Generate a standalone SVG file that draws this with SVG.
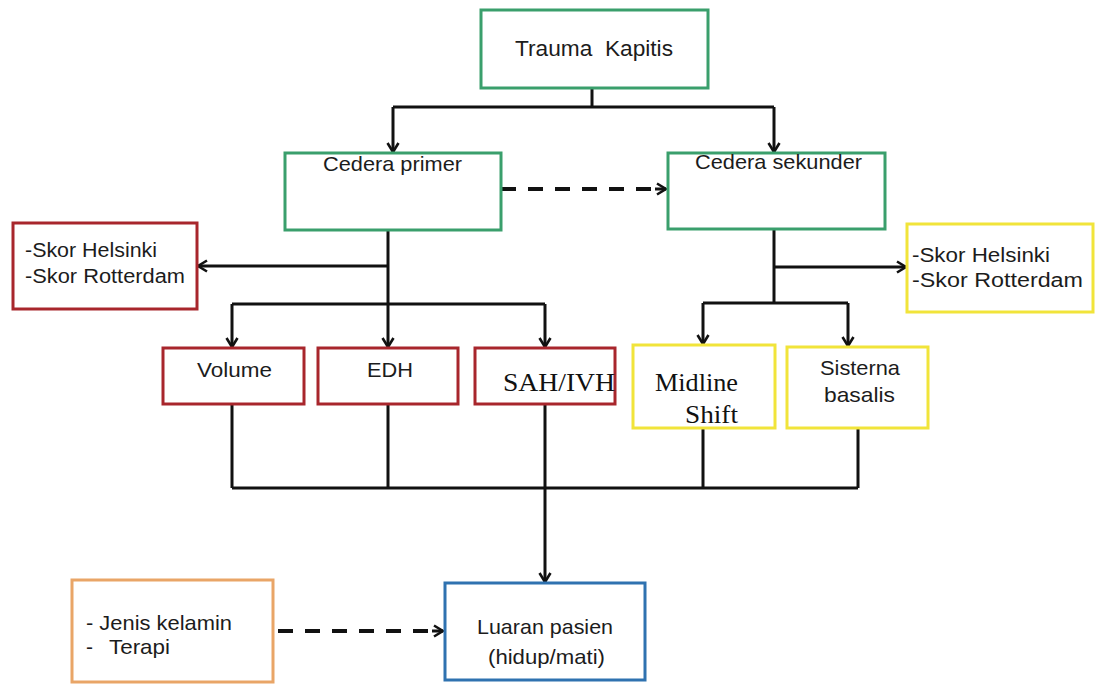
<svg xmlns="http://www.w3.org/2000/svg" width="1098" height="688" viewBox="0 0 1098 688">
<defs>
<style>
.box{fill:#fff;stroke-width:3}
.g{stroke:#3a9f6c}
.r{stroke:#a8262c}
.y{stroke:#f1e43a}
.o{stroke:#e9a567}
.b{stroke:#2f72b0}
.t{font-family:"Liberation Sans",Arial,sans-serif;fill:#1c1c1c}
.s{font-family:"Liberation Serif","Times New Roman",serif;fill:#111}
.ln{fill:none;stroke:#111;stroke-width:3}
.ar{marker-end:url(#ah)}
.dash{fill:none;stroke:#111;stroke-width:4;stroke-dasharray:15 12}
</style>
<marker id="ah" markerUnits="userSpaceOnUse" viewBox="0 0 14 14" refX="12" refY="7" markerWidth="14" markerHeight="14" orient="auto">
<path d="M3,1.5 L12,7 L3,12.5" fill="none" stroke="#111" stroke-width="2.6"/>
</marker>
</defs>
<rect width="1098" height="688" fill="#fff"/>

<g id="connectors">
<path class="ln" d="M592,88 V107"/>
<path class="ln" d="M393,107 H774"/>
<path class="ln ar" d="M393,107 V152"/>
<path class="ln ar" d="M774,107 V152"/>
<path class="dash" d="M501,189 H655"/>
<path class="ln" d="M655,189 H666" marker-end="url(#ah)"/>
<path class="ln" d="M388,230 V304"/>
<path class="ln ar" d="M388,266 H198"/>
<path class="ln" d="M232,304 H545"/>
<path class="ln ar" d="M232,304 V347"/>
<path class="ln ar" d="M388,304 V347"/>
<path class="ln ar" d="M545,304 V347"/>
<path class="ln" d="M774,229 V303"/>
<path class="ln ar" d="M774,267 H906"/>
<path class="ln" d="M703,303 H848"/>
<path class="ln ar" d="M703,303 V344"/>
<path class="ln ar" d="M848,303 V346"/>
<path class="ln" d="M232,404 V488 M388,404 V488 M545,404 V488 M703,428 V488 M858,428 V488"/>
<path class="ln" d="M232,488 H858"/>
<path class="ln ar" d="M545,488 V582"/>
<path class="dash" d="M278,631 H432"/>
<path class="ln" d="M432,631 H443" marker-end="url(#ah)"/>
</g>

<g id="trauma">
<rect class="box g" x="481" y="10" width="227" height="78"/>
<text class="t" x="515" y="56" font-size="22" textLength="158" lengthAdjust="spacingAndGlyphs" xml:space="preserve">Trauma  Kapitis</text>
</g>
<g id="cedera-primer">
<rect class="box g" x="285" y="153" width="216" height="77"/>
<text class="t" x="323" y="171" font-size="21" textLength="139" lengthAdjust="spacingAndGlyphs">Cedera primer</text>
</g>
<g id="cedera-sekunder">
<rect class="box g" x="668" y="153" width="217" height="76"/>
<text class="t" x="695" y="169" font-size="21" textLength="167" lengthAdjust="spacingAndGlyphs">Cedera sekunder</text>
</g>
<g id="skor-kiri">
<rect class="box r" x="13" y="223" width="184" height="86"/>
<text class="t" x="25" y="257" font-size="19.5" textLength="132" lengthAdjust="spacingAndGlyphs">-Skor Helsinki</text>
<text class="t" x="25" y="283" font-size="19.5" textLength="160" lengthAdjust="spacingAndGlyphs">-Skor Rotterdam</text>
</g>
<g id="skor-kanan">
<rect class="box y" x="907" y="224" width="186" height="88"/>
<text class="t" x="912" y="262" font-size="19.5" textLength="138" lengthAdjust="spacingAndGlyphs">-Skor Helsinki</text>
<text class="t" x="912" y="287" font-size="19.5" textLength="171" lengthAdjust="spacingAndGlyphs">-Skor Rotterdam</text>
</g>
<g id="volume">
<rect class="box r" x="163" y="348" width="141" height="56"/>
<text class="t" x="197" y="377" font-size="21" textLength="75" lengthAdjust="spacingAndGlyphs">Volume</text>
</g>
<g id="edh">
<rect class="box r" x="318" y="348" width="140" height="56"/>
<text class="t" x="367" y="377" font-size="21" textLength="46" lengthAdjust="spacingAndGlyphs">EDH</text>
</g>
<g id="sah-ivh">
<rect class="box r" x="475" y="348" width="140" height="56"/>
<text class="s" x="503" y="391" font-size="25" textLength="112" lengthAdjust="spacingAndGlyphs">SAH/IVH</text>
</g>
<g id="midline">
<rect class="box y" x="633" y="345" width="142" height="83"/>
<text class="s" x="655" y="391" font-size="25" textLength="83" lengthAdjust="spacingAndGlyphs">Midline</text>
<text class="s" x="685" y="423" font-size="25" textLength="53" lengthAdjust="spacingAndGlyphs">Shift</text>
</g>
<g id="sisterna">
<rect class="box y" x="787" y="347" width="141" height="81"/>
<text class="t" x="820" y="375" font-size="21" textLength="80" lengthAdjust="spacingAndGlyphs">Sisterna</text>
<text class="t" x="824" y="402" font-size="21" textLength="71" lengthAdjust="spacingAndGlyphs">basalis</text>
</g>
<g id="faktor">
<rect class="box o" x="72" y="580" width="201" height="102"/>
<text class="t" x="86" y="630" font-size="21" textLength="146" lengthAdjust="spacingAndGlyphs">- Jenis kelamin</text>
<text class="t" x="86" y="654" font-size="21">-</text>
<text class="t" x="109" y="654" font-size="21" textLength="61" lengthAdjust="spacingAndGlyphs">Terapi</text>
</g>
<g id="luaran">
<rect class="box b" x="445" y="583" width="200" height="97"/>
<text class="t" x="477" y="634" font-size="21" textLength="136" lengthAdjust="spacingAndGlyphs">Luaran pasien</text>
<text class="t" x="488" y="664" font-size="21" textLength="117" lengthAdjust="spacingAndGlyphs">(hidup/mati)</text>
</g>
</svg>
